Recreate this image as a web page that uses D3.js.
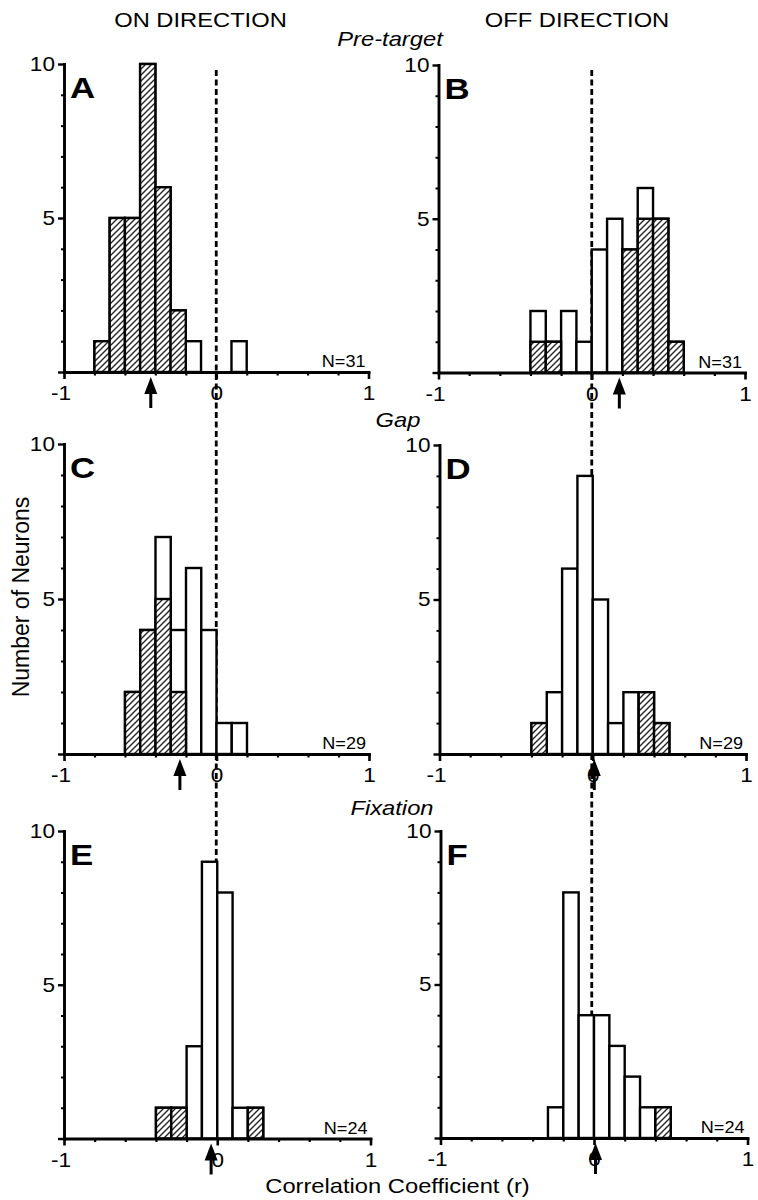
<!DOCTYPE html>
<html><head><meta charset="utf-8">
<script src="https://cdn.jsdelivr.net/npm/d3@7"></script>
<style>body{margin:0;background:#fff}svg{display:block}</style>
</head><body>
<svg id="c" width="758" height="1200"></svg>
<script>
// ---------------- data ----------------
const panelLetters = ["A", "B", "C", "D", "E", "F"];
const nLabels = ["N=31", "N=31", "N=29", "N=29", "N=24", "N=24"];
const columnTitles = ["ON DIRECTION", "OFF DIRECTION"];
const rowTitles = ["Pre-target", "Gap", "Fixation"];
const xAxisTitle = "Correlation Coefficient (r)";
const yAxisTitle = "Number of Neurons";
const xTickValues = [-1, 0, 1];
const xTickLabels = ["-1", "0", "1"];
const xMinorTicks = [-0.8, -0.6, -0.4, -0.2, 0.2, 0.4, 0.6, 0.8];
const yTickValues = [0, 5, 10];
const yTickLabels = ["", "5", "10"];
const yMinorTicks = [1, 2, 3, 4, 6, 7, 8, 9];
const binWidth = 0.1;

// bin lower edges, total counts, hatched (significant) counts
const binsA = [-0.8, -0.7, -0.6, -0.5, -0.4, -0.3, -0.2, 0.1];
const totalA = [1, 5, 5, 10, 6, 2, 1, 1];
const hatchA = [1, 5, 5, 10, 6, 2, 0, 0];

const binsB = [-0.4, -0.3, -0.2, -0.1, 0.0, 0.1, 0.2, 0.3, 0.4, 0.5];
const totalB = [2, 1, 2, 1, 4, 5, 4, 6, 5, 1];
const hatchB = [1, 1, 0, 0, 0, 0, 4, 5, 5, 1];

const binsC = [-0.6, -0.5, -0.4, -0.3, -0.2, -0.1, 0.0, 0.1];
const totalC = [2, 4, 7, 4, 6, 4, 1, 1];
const hatchC = [2, 4, 5, 2, 0, 0, 0, 0];

const binsD = [-0.4, -0.3, -0.2, -0.1, 0.0, 0.1, 0.2, 0.3, 0.4];
const totalD = [1, 2, 6, 9, 5, 1, 2, 2, 1];
const hatchD = [1, 0, 0, 0, 0, 0, 0, 2, 1];

const binsE = [-0.4, -0.3, -0.2, -0.1, 0.0, 0.1, 0.2];
const totalE = [1, 1, 3, 9, 8, 1, 1];
const hatchE = [1, 1, 0, 0, 0, 0, 1];

const binsF = [-0.3, -0.2, -0.1, 0.0, 0.1, 0.2, 0.3, 0.4];
const totalF = [1, 8, 4, 4, 3, 2, 1, 1];
const hatchF = [0, 0, 0, 0, 0, 0, 0, 1];

const meanArrows = [-0.43, 0.18, -0.24, 0.01, -0.04, 0.01];

// ---------------- layout ----------------
const panels = [
  {bins: binsA, total: totalA, hatch: hatchA},
  {bins: binsB, total: totalB, hatch: hatchB},
  {bins: binsC, total: totalC, hatch: hatchC},
  {bins: binsD, total: totalD, hatch: hatchD},
  {bins: binsE, total: totalE, hatch: hatchE},
  {bins: binsF, total: totalF, hatch: hatchF}
];
const layout = [
  {x: [64, 368.5], y: [372, 64]},
  {x: [438.5, 745], y: [372.5, 65]},
  {x: [64, 369], y: [754, 444]},
  {x: [439.5, 746], y: [754, 445]},
  {x: [64, 370.5], y: [1138.5, 831]},
  {x: [440.5, 747.5], y: [1138, 831]}
];
const colTitlePos = [[200.5, 27], [577, 27]];
const rowTitlePos = [[390, 46], [398, 427], [392, 815]];

const FONT = "'Liberation Sans', Arial, Helvetica, sans-serif";
const SX = 1.13;

const svg = d3.select("#c");
svg.append("rect").attr("width", 758).attr("height", 1200).attr("fill", "#fff");

const defs = svg.append("defs");
const pat = defs.append("pattern").attr("id", "hatch")
  .attr("patternUnits", "userSpaceOnUse").attr("width", 6).attr("height", 6);
pat.append("rect").attr("width", 6).attr("height", 6).attr("fill", "#fff");
pat.append("path").attr("d", "M-1.5,1.5 L1.5,-1.5 M0,6 L6,0 M4.5,7.5 L7.5,4.5")
  .attr("stroke", "#222").attr("stroke-width", 1.35);

function label(parent, x, y, str, size, opts = {}) {
  return parent.append("text")
    .attr("transform", `translate(${x},${y}) scale(${opts.sx || SX},1)`)
    .attr("text-anchor", opts.anchor || "middle")
    .attr("font-family", FONT)
    .attr("font-size", size)
    .attr("font-weight", opts.weight || "normal")
    .attr("font-style", opts.style || "normal")
    .attr("fill", "#000")
    .text(str);
}

// dashed zero lines (one per column)
const xs0 = d3.scaleLinear().domain([-1, 1]).range(layout[0].x);
const xs1 = d3.scaleLinear().domain([-1, 1]).range(layout[1].x);
svg.append("line").attr("x1", xs0(0)).attr("x2", xs0(0)).attr("y1", 70).attr("y2", layout[4].y[0])
  .attr("stroke", "#000").attr("stroke-width", 2.8).attr("stroke-dasharray", "6,3.5");
svg.append("line").attr("x1", xs1(0)).attr("x2", xs1(0)).attr("y1", 70).attr("y2", layout[5].y[0])
  .attr("stroke", "#000").attr("stroke-width", 2.8).attr("stroke-dasharray", "6,3.5");

panels.forEach((p, i) => {
  const L = layout[i];
  const x = d3.scaleLinear().domain([-1, 1]).range(L.x);
  const y = d3.scaleLinear().domain([0, 10]).range(L.y);
  const g = svg.append("g");
  const rows = p.bins.map((s, k) => ({s: s, t: p.total[k], h: p.hatch[k]}));

  g.selectAll("rect.tot").data(rows).join("rect").attr("class", "tot")
    .attr("x", d => x(d.s)).attr("width", d => x(d.s + binWidth) - x(d.s))
    .attr("y", d => y(d.t)).attr("height", d => y(0) - y(d.t))
    .attr("fill", "#fff").attr("stroke", "#000").attr("stroke-width", 2.4);
  g.selectAll("rect.hat").data(rows.filter(d => d.h > 0)).join("rect").attr("class", "hat")
    .attr("x", d => x(d.s)).attr("width", d => x(d.s + binWidth) - x(d.s))
    .attr("y", d => y(d.h)).attr("height", d => y(0) - y(d.h))
    .attr("fill", "url(#hatch)").attr("stroke", "#000").attr("stroke-width", 2.4);

  // x axis
  const gx = g.append("g").attr("transform", `translate(0,${y(0)})`);
  gx.call(d3.axisBottom(x).tickValues(xTickValues).tickFormat((d, k) => xTickLabels[k])
    .tickSize(7).tickSizeOuter(0).tickPadding(7));
  gx.select(".domain").attr("stroke-width", 2.9).attr("stroke-linecap", "square");
  gx.selectAll(".tick line").attr("stroke-width", 2.6);
  gx.selectAll(".tick text").attr("font-family", FONT).attr("font-size", 20).attr("fill", "#000")
    .attr("transform", `scale(${SX},1)`).attr("dx", d => d < 0 ? -3 : 0);
  const gxm = g.append("g").attr("transform", `translate(0,${y(0)})`);
  gxm.call(d3.axisBottom(x).tickValues(xMinorTicks).tickFormat("").tickSize(3.5).tickSizeOuter(0));
  gxm.select(".domain").remove();
  gxm.selectAll(".tick line").attr("stroke-width", 2.2);

  // y axis
  const gy = g.append("g").attr("transform", `translate(${x(-1)},0)`);
  gy.call(d3.axisLeft(y).tickValues(yTickValues).tickFormat((d, k) => yTickLabels[k])
    .tickSize(6).tickSizeOuter(0).tickPadding(2));
  gy.select(".domain").attr("stroke-width", 2.9).attr("stroke-linecap", "square");
  gy.selectAll(".tick line").attr("stroke-width", 2.4);
  gy.selectAll(".tick text").attr("font-family", FONT).attr("font-size", 20).attr("fill", "#000")
    .attr("transform", `scale(${SX},1)`);
  const gym = g.append("g").attr("transform", `translate(${x(-1)},0)`);
  gym.call(d3.axisLeft(y).tickValues(yMinorTicks).tickFormat("").tickSize(3).tickSizeOuter(0));
  gym.select(".domain").remove();
  gym.selectAll(".tick line").attr("stroke-width", 2);

  // panel letter
  label(g, x(-1) + 6, y(10) + 34, panelLetters[i], 29, {anchor: "start", weight: "bold", sx: 1.2});
  // N label
  label(g, x(1) - 3, y(0) - 5, nLabels[i], 16, {anchor: "end"});

  // mean arrow
  const ax = x(meanArrows[i]);
  const top = y(0) + 5;
  g.append("line").attr("x1", ax).attr("x2", ax).attr("y1", top + 12).attr("y2", top + 31)
    .attr("stroke", "#000").attr("stroke-width", 3);
  g.append("path")
    .attr("d", `M${ax},${top} L${ax - 6.5},${top + 17} L${ax + 6.5},${top + 17} Z`)
    .attr("fill", "#000");
});

// titles
columnTitles.forEach((t, k) => label(svg, colTitlePos[k][0], colTitlePos[k][1], t, 21));
rowTitles.forEach((t, k) => label(svg, rowTitlePos[k][0], rowTitlePos[k][1], t, 21, {style: "italic"}));
label(svg, 397.5, 1193, xAxisTitle, 21);
svg.append("text")
  .attr("transform", "translate(29,597) rotate(-90)")
  .attr("text-anchor", "middle")
  .attr("font-family", FONT).attr("font-size", 23).attr("fill", "#000")
  .text(yAxisTitle);
</script>
</body></html>
